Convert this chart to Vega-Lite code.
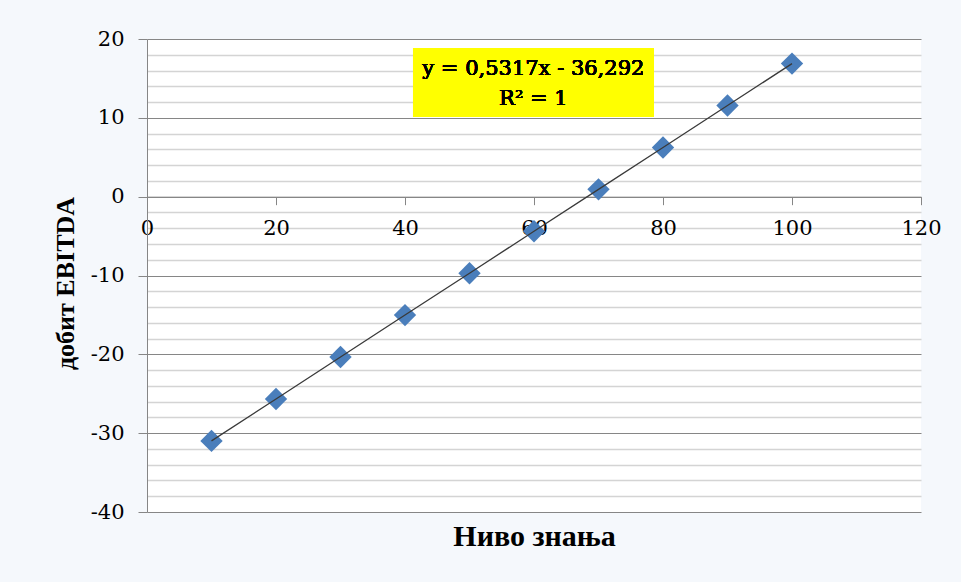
{
  "$schema": "https://vega.github.io/schema/vega-lite/v6.json",
  "width": 774,
  "height": 473,
  "autosize": {"type": "none"},
  "padding": {"left": 147, "top": 39, "right": 40, "bottom": 70},
  "background": "#f5f8fc",
  "config": {
    "view": {"fill": "white", "stroke": null},
    "font": "Liberation Serif"
  },
  "data": {
    "values": [
      {"nivo": 10, "ebitda": -30.98},
      {"nivo": 20, "ebitda": -25.66},
      {"nivo": 30, "ebitda": -20.34},
      {"nivo": 40, "ebitda": -15.02},
      {"nivo": 50, "ebitda": -9.71},
      {"nivo": 60, "ebitda": -4.39},
      {"nivo": 70, "ebitda": 0.93},
      {"nivo": 80, "ebitda": 6.24},
      {"nivo": 90, "ebitda": 11.56},
      {"nivo": 100, "ebitda": 16.88}
    ]
  },
  "resolve": {"axis": {"y": "independent"}},
  "layer": [
    {
      "mark": {"type": "rect", "color": "#ffff00"},
      "encoding": {
        "x": {
          "datum": 41.24,
          "type": "quantitative",
          "scale": {"domain": [0, 120], "nice": false, "zero": false},
          "axis": {
            "orient": "bottom",
            "offset": -315.33,
            "values": [0, 20, 40, 60, 80, 100, 120],
            "labelExpr": "'' + datum.value",
            "grid": false,
            "domainColor": "#868686",
            "domainWidth": 1,
            "tickColor": "#868686",
            "tickSize": 8,
            "labelFont": "DejaVu Serif",
            "labelFontSize": 21,
            "labelFontWeight": "normal",
            "labelColor": "#000000",
            "labelPadding": 13,
            "labelFlush": false,
            "labelOverlap": false,
            "title": "Ниво знања",
            "titleFont": "Liberation Serif",
            "titleFontSize": 30,
            "titleFontWeight": "bold",
            "titleColor": "#000000",
            "titleBaseline": "middle",
            "titleY": 340
          }
        },
        "x2": {"datum": 78.6},
        "y": {
          "datum": 18.86,
          "type": "quantitative",
          "scale": {"domain": [-40, 20], "nice": false, "zero": false},
          "axis": {
            "orient": "left",
            "values": [-38, -36, -34, -32, -28, -26, -24, -22, -18, -16, -14, -12, -8, -6, -4, -2, 2, 4, 6, 8, 12, 14, 16, 18],
            "grid": true,
            "gridColor": "#d4d4d4",
            "gridWidth": 1.3,
            "domain": false,
            "ticks": false,
            "labels": false,
            "title": null
          }
        },
        "y2": {"datum": 10.1}
      }
    },
    {
      "mark": {"type": "point", "shape": "diamond", "filled": true, "size": 500, "color": "#4a7ebb", "opacity": 1},
      "encoding": {
        "x": {"field": "nivo", "type": "quantitative"},
        "y": {
          "field": "ebitda",
          "type": "quantitative",
          "scale": {"domain": [-40, 20], "nice": false, "zero": false},
          "axis": {
            "orient": "left",
            "values": [-40, -30, -20, -10, 0, 10, 20],
            "labelExpr": "'' + datum.value",
            "grid": true,
            "gridColor": "#868686",
            "gridWidth": 1,
            "domainColor": "#868686",
            "tickColor": "#868686",
            "tickSize": 9,
            "labelFont": "DejaVu Serif",
            "labelFontSize": 21,
            "labelFontWeight": "normal",
            "labelColor": "#000000",
            "labelPadding": 14,
            "labelFlush": false,
            "labelOverlap": false,
            "title": "добит EBITDA",
            "titleFont": "Liberation Serif",
            "titleFontSize": 26,
            "titleFontWeight": "bold",
            "titleColor": "#000000",
            "titleAngle": 270,
            "titleAlign": "center",
            "titleBaseline": "middle",
            "titleX": -82,
            "titleY": 244
          }
        }
      }
    },
    {
      "mark": {"type": "line", "color": "#3a3a3a", "strokeWidth": 1.3},
      "encoding": {
        "x": {"field": "nivo", "type": "quantitative"},
        "y": {"field": "ebitda", "type": "quantitative", "axis": null}
      }
    },
    {
      "mark": {
        "type": "text",
        "text": ["y = 0,5317x - 36,292", "R² = 1"],
        "font": "DejaVu Serif",
        "fontSize": 21,
        "fontWeight": "normal",
        "lineHeight": 30,
        "align": "center",
        "baseline": "middle",
        "color": "#000000"
      },
      "encoding": {
        "x": {"datum": 59.9, "type": "quantitative"},
        "y": {"datum": 16.2, "type": "quantitative", "axis": null}
      }
    }
  ]
}
